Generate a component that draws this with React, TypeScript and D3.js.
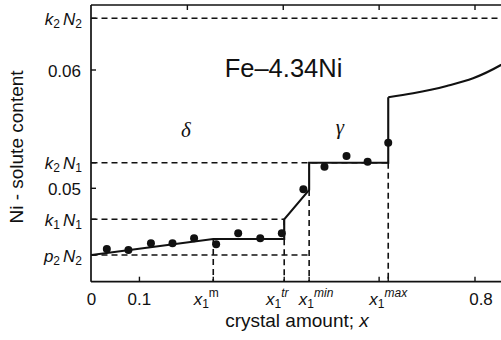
import React from "react";
import * as d3 from "d3";

// ---- data ----
const yTickValues = [0.05, 0.06];
const levelNames = ["k2N2", "k2N1", "k1N1", "p2N2"];
const levelValues = [0.06437, 0.05216, 0.04738, 0.04436];
const xTickValues = [0.1, 0.6, 0.8];
const xTickLabels = ["0", "0.1", "0.8"];
const xTickLabelValues = [0, 0.1, 0.8];
const topTickValues = [0.2, 0.4, 0.6, 0.8];
const markNames = ["m", "tr", "min", "max"];
const markValues = [0.254, 0.402, 0.454, 0.619];

const stepX = [0, 0.254, 0.402, 0.402, 0.454, 0.454, 0.619, 0.619];
const stepY = [0.04436, 0.04571, 0.04571, 0.04738, 0.04986, 0.05216, 0.05216, 0.05769];
const tailX = [0.619, 0.671, 0.741, 0.796, 0.854, 0.87];
const tailY = [0.05769, 0.05803, 0.05865, 0.0593, 0.06042, 0.0608];

const dotX = [0.032, 0.077, 0.124, 0.169, 0.214, 0.26, 0.306, 0.352, 0.397, 0.442, 0.486, 0.532, 0.576, 0.619];
const dotY = [0.04487, 0.04478, 0.04535, 0.04535, 0.04577, 0.04527, 0.0462, 0.04577, 0.0462, 0.04992, 0.05183, 0.05273, 0.05225, 0.05385];

export default function App() {
  const W = 501, H = 340;
  const left = 91, top = 5, bottom = 281.7;
  const x = d3.scaleLinear().domain([0, 0.8]).range([91.5, 475]);
  const y = d3.scaleLinear().domain([0.05, 0.06]).range([188.3, 70]);
  const font = "'Liberation Sans', Arial, sans-serif";
  const serif = "'Liberation Serif', 'Times New Roman', serif";
  const dash = "6,4";
  const lineGen = d3.line<[number, number]>().x(d => x(d[0])).y(d => y(d[1]));
  const stepPath = lineGen(stepX.map((v, i) => [v, stepY[i]] as [number, number])) || "";
  const tailPath = lineGen.curve(d3.curveMonotoneX)(tailX.map((v, i) => [v, tailY[i]] as [number, number])) || "";

  const lvl = (n: string) => levelValues[levelNames.indexOf(n)];
  const hLines: [number, number, number][] = [
    [lvl("k2N2"), 0, 0.9],
    [lvl("k2N1"), 0, markValues[3]],
    [lvl("k1N1"), 0, markValues[1]],
    [lvl("p2N2"), 0, markValues[2]],
  ];
  const vLines: [number, number][] = [
    [markValues[0], stepY[1]],
    [markValues[1], lvl("k1N1")],
    [markValues[2], stepY[4]],
    [markValues[3], lvl("k2N1")],
  ];
  const markDx = [-7, -7, 7, 0];
  const labFs = 17;
  const subFs = 12;
  const ink = "#111";

  const levelLabel = (name: string) => {
    const a = name[0], b = name[1], c = name[2], d = name[3];
    return (
      <>
        <tspan fontStyle="italic">{a}</tspan>
        <tspan fontSize={subFs} dy={3}>{b}</tspan>
        <tspan dy={-3} dx={3} fontStyle="italic">{c}</tspan>
        <tspan fontSize={subFs} dy={3}>{d}</tspan>
      </>
    );
  };

  return (
    <svg width={W} height={H} style={{ position: "absolute", left: 0, top: 0, background: "#fff" }} fontFamily={font}>
      <rect x={0} y={0} width={W} height={H} fill="#fff" />
      {/* dashed guides */}
      {hLines.map(([v, a, b], i) => (
        <line key={"h" + i} x1={x(a)} x2={x(b)} y1={y(v)} y2={y(v)} stroke={ink} strokeWidth={1.6} strokeDasharray={dash} />
      ))}
      {vLines.map(([xv, yv], i) => (
        <line key={"v" + i} x1={x(xv)} x2={x(xv)} y1={y(yv)} y2={bottom} stroke={ink} strokeWidth={1.6} strokeDasharray={dash} />
      ))}
      {/* axes frame */}
      <line x1={left} x2={left} y1={top} y2={bottom} stroke={ink} strokeWidth={1.7} />
      <line x1={left} x2={W} y1={bottom} y2={bottom} stroke={ink} strokeWidth={1.7} />
      <line x1={left} x2={W} y1={top} y2={top} stroke={ink} strokeWidth={1.7} />
      {topTickValues.map((v, i) => (
        <line key={"tt" + i} x1={x(v)} x2={x(v)} y1={top} y2={top + 5} stroke={ink} strokeWidth={1.4} />
      ))}
      {[...xTickValues, ...markValues].map((v, i) => (
        <line key={"bt" + i} x1={x(v)} x2={x(v)} y1={bottom} y2={bottom - 5} stroke={ink} strokeWidth={1.4} />
      ))}
      {[...yTickValues, ...levelValues].map((v, i) => (
        <line key={"lt" + i} x1={left} x2={left + 5} y1={y(v)} y2={y(v)} stroke={ink} strokeWidth={1.4} />
      ))}
      {/* y tick labels */}
      {yTickValues.map((v, i) => (
        <text key={"yl" + i} x={81} y={y(v) + 6.5} fontSize={labFs} textAnchor="end" fill={ink}>{d3.format(".2f")(v)}</text>
      ))}
      {levelNames.map((n, i) => (
        <text key={"ll" + i} x={82} y={y(levelValues[i]) + 6.5} fontSize={labFs} textAnchor="end" fill={ink}>{levelLabel(n)}</text>
      ))}
      {/* x tick labels */}
      {xTickLabels.map((t, i) => (
        <text key={"xl" + i} x={x(xTickLabelValues[i]) + (i === 2 ? 6 : 0)} y={305} fontSize={labFs} textAnchor="middle" fill={ink}>{t}</text>
      ))}
      {markNames.map((n, i) => (
        <text key={"ml" + i} x={x(markValues[i]) + markDx[i]} y={305} fontSize={labFs} textAnchor="middle" fill={ink}>
          <tspan fontStyle="italic">x</tspan>
          <tspan fontSize={subFs} dy={3}>1</tspan>
          <tspan fontSize={subFs} dy={-11} fontStyle={n === "m" ? "normal" : "italic"}>{n}</tspan>
        </text>
      ))}
      {/* axis titles */}
      <text x={297} y={327} fontSize={19} textAnchor="middle" fill={ink}>
        crystal amount; <tspan fontStyle="italic">x</tspan>
      </text>
      <text transform="translate(23,147) rotate(-90)" fontSize={19} textAnchor="middle" fill={ink}>Ni - solute content</text>
      {/* annotations */}
      <text x={283.5} y={77} fontSize={25.5} textAnchor="middle" fill={ink}>Fe–4.34Ni</text>
      <text x={186} y={137} fontSize={21} fontFamily={serif} fontStyle="italic" textAnchor="middle" fill={ink}>δ</text>
      <text x={340} y={134} fontSize={21} fontFamily={serif} fontStyle="italic" textAnchor="middle" fill={ink}>γ</text>
      {/* curve */}
      <path d={stepPath} fill="none" stroke={ink} strokeWidth={2.1} />
      <path d={tailPath} fill="none" stroke={ink} strokeWidth={2.1} />
      {/* dots */}
      {dotX.map((v, i) => (
        <circle key={"d" + i} cx={x(v)} cy={y(dotY[i])} r={4} fill={ink} />
      ))}
    </svg>
  );
}
